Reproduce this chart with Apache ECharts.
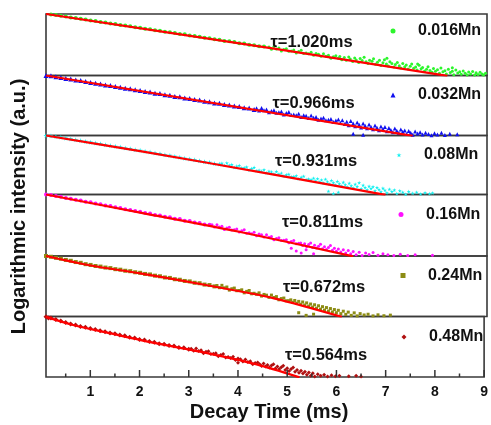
<!DOCTYPE html>
<html>
<head>
<meta charset="utf-8">
<script src="https://cdn.jsdelivr.net/npm/echarts@6/dist/echarts.min.js"></script>
<style>
  html, body { margin: 0; padding: 0; background: #fff; }
  #chart { width: 491px; height: 425px; }
</style>
</head>
<body>
<div id="chart"></div>
<script>
// Decay curves of the Mn-doped series: logarithmic intensity (ln units) vs. time (ms)
const timeTicks = [1, 2, 3, 4, 5, 6, 7, 8, 9];
const timeMinorTicks = [0.5, 1.5, 2.5, 3.5, 4.5, 5.5, 6.5, 7.5, 8.5];
const sampleNames = ['0.016Mn', '0.032Mn', '0.08Mn', '0.16Mn', '0.24Mn', '0.48Mn'];
const lifetimes = [1.020, 0.966, 0.931, 0.811, 0.672, 0.564];
const sampleColors = ['#2cf52c', '#1010f0', '#10f0f0', '#ff10ff', '#8c8c14', '#b01010'];

// measured decay points [time (ms), ln intensity]
const data016 = [[0.1,0.02],[0.2,-0.06],[0.3,-0.13],[0.4,-0.24],[0.5,-0.31],[0.6,-0.44],[0.7,-0.52],[0.8,-0.63],[0.9,-0.71],[1.0,-0.83],[1.1,-0.90],[1.2,-1.03],[1.3,-1.10],[1.4,-1.22],[1.5,-1.29],[1.6,-1.43],[1.7,-1.50],[1.8,-1.58],[1.9,-1.71],[2.0,-1.78],[2.1,-1.92],[2.2,-1.98],[2.3,-2.10],[2.4,-2.17],[2.5,-2.31],[2.6,-2.38],[2.7,-2.46],[2.8,-2.60],[2.9,-2.65],[3.0,-2.79],[3.1,-2.86],[3.2,-2.97],[3.3,-3.10],[3.4,-3.14],[3.5,-3.29],[3.6,-3.35],[3.7,-3.50],[3.8,-3.55],[3.9,-3.64],[4.0,-3.80],[4.1,-3.83],[4.2,-3.99],[4.3,-4.05],[4.4,-4.20],[4.5,-4.24],
  [4.6,-4.29],[4.65,-4.57],[4.7,-4.24],[4.75,-4.55],[4.8,-4.43],[4.85,-4.81],[4.9,-4.62],[4.95,-4.52],[5.0,-4.84],[5.05,-4.80],[5.1,-4.69],[5.15,-5.07],[5.2,-4.87],[5.25,-4.73],[5.3,-5.15],[5.35,-5.06],[5.4,-5.18],[5.45,-4.96],[5.5,-5.38],[5.55,-5.14],[5.6,-5.22],[5.65,-5.50],[5.7,-5.17],[5.75,-5.48],[5.8,-5.35],[5.85,-5.74],[5.9,-5.55],[5.95,-5.44],[6.0,-5.77],
  [6.03,-5.52],[6.07,-5.95],[6.12,-5.66],[6.16,-6.02],[6.21,-5.58],[6.24,-5.85],[6.29,-6.18],[6.33,-5.72],[6.36,-5.98],[6.41,-6.30],[6.44,-5.80],[6.48,-6.05],[6.52,-5.62],[6.56,-6.22],[6.60,-6.45],[6.63,-6.00],[6.68,-6.15],[6.71,-5.82],[6.75,-6.55],[6.79,-6.28],[6.83,-6.02],[6.86,-6.70],[6.90,-6.35],[6.93,-5.95],[6.97,-6.50],[6.98,-5.75],[7.01,-6.78],[7.04,-6.20],[7.08,-6.45],[7.12,-6.88],[7.15,-6.58],[7.19,-6.30],[7.23,-6.72],[7.26,-7.02],[7.30,-6.45],[7.34,-6.85],[7.37,-6.62],[7.41,-7.15],[7.45,-6.80],[7.48,-6.52],[7.52,-7.05],[7.56,-6.90],[7.59,-7.30],[7.60,-6.50],[7.63,-6.68],[7.67,-7.12],[7.70,-6.95],[7.74,-7.42],[7.78,-7.20],[7.81,-6.85],[7.85,-7.35],[7.89,-7.58],[7.92,-7.10],[7.96,-7.45],[8.00,-7.25],[8.04,-7.70],[8.07,-7.02],[8.11,-7.52],[8.15,-7.38],[8.18,-7.80],[8.22,-7.18],[8.26,-7.60],[8.30,-7.45],[8.30,-7.00],[8.33,-7.90],[8.37,-7.30],[8.41,-7.68],[8.45,-7.52],[8.48,-7.85],[8.52,-7.40],[8.56,-7.72],[8.60,-7.95],[8.63,-7.55],[8.67,-7.82],[8.71,-7.48],[8.75,-7.92],[8.78,-7.65],[8.82,-7.88],[8.86,-7.58],[8.90,-7.80],[8.93,-7.95],[8.97,-7.70]];
const data032 = [[0.1,0.0],[0.2,-0.04],[0.3,-0.16],[0.4,-0.25],[0.5,-0.40],[0.6,-0.47],[0.7,-0.61],[0.8,-0.68],[0.9,-0.80],[1.0,-0.92],[1.1,-1.02],[1.2,-1.12],[1.3,-1.27],[1.4,-1.34],[1.5,-1.47],[1.6,-1.55],[1.7,-1.70],[1.8,-1.76],[1.9,-1.90],[2.0,-1.99],[2.1,-2.12],[2.2,-2.20],[2.3,-2.35],[2.4,-2.41],[2.5,-2.55],[2.6,-2.63],[2.7,-2.79],[2.8,-2.84],[2.9,-3.00],[3.0,-3.06],[3.1,-3.21],[3.2,-3.28],[3.3,-3.44],[3.4,-3.50],[3.5,-3.66],[3.6,-3.70],[3.7,-3.88],[3.8,-3.92],[3.9,-4.08],[4.0,-4.14],[4.1,-4.30],[4.2,-4.33],[4.3,-4.52],
  [4.35,-4.37],[4.4,-4.65],[4.45,-4.33],[4.5,-4.64],[4.55,-4.52],[4.6,-4.91],[4.65,-4.72],[4.7,-4.62],[4.75,-4.95],[4.8,-4.91],[4.85,-4.80],[4.9,-5.19],[4.95,-4.99],[5.0,-4.85],[5.05,-5.28],[5.1,-5.19],[5.15,-5.31],[5.2,-5.10],[5.25,-5.52],[5.3,-5.29],[5.35,-5.37],[5.4,-5.65],[5.45,-5.33],[5.5,-5.64],[5.55,-5.52],[5.6,-5.91],[5.65,-5.72],[5.7,-5.62],[5.75,-5.95],[5.8,-5.91],[5.85,-5.80],[5.9,-6.19],[5.95,-5.99],[6.0,-5.85],
  [6.04,-6.32],[6.08,-5.98],[6.13,-6.45],[6.17,-6.15],[6.21,-6.62],[6.25,-6.05],[6.30,-6.40],[6.30,-7.78],[6.34,-6.75],[6.38,-6.28],[6.42,-6.55],[6.46,-6.92],[6.50,-6.40],[6.50,-7.90],[6.54,-6.70],[6.58,-7.02],[6.62,-6.52],[6.66,-6.85],[6.70,-7.18],[6.74,-6.65],[6.78,-6.95],[6.82,-7.30],[6.86,-6.80],[6.90,-7.12],[6.94,-6.88],[6.98,-7.42],[7.02,-7.00],[7.06,-7.25],[7.10,-7.55],[7.14,-7.08],[7.18,-7.38],[7.22,-7.68],[7.26,-7.20],[7.30,-7.50],[7.34,-7.32],[7.38,-7.80],[7.42,-7.40],[7.46,-7.62],[7.50,-7.90],[7.55,-7.45],[7.60,-7.72],[7.65,-7.55],[7.70,-7.88],[7.76,-7.62],[7.82,-7.80],[7.88,-7.95],[7.94,-7.70],[8.00,-7.85],[8.08,-7.62],[8.15,-7.92],[8.25,-7.75],[8.40,-7.82]];
const data08 = [[0.1,0.0],[0.2,-0.04],[0.3,-0.15],[0.4,-0.24],[0.5,-0.36],[0.6,-0.46],[0.7,-0.58],[0.8,-0.68],[0.9,-0.80],[1.0,-0.90],[1.1,-1.03],[1.2,-1.12],[1.3,-1.25],[1.4,-1.35],[1.5,-1.47],[1.6,-1.56],[1.7,-1.70],[1.8,-1.78],[1.9,-1.92],[2.0,-2.01],[2.1,-2.14],[2.2,-2.24],[2.3,-2.38],[2.4,-2.46],[2.5,-2.62],[2.6,-2.70],[2.7,-2.84],[2.8,-2.95],[2.9,-3.10],[3.0,-3.18],[3.1,-3.30],[3.2,-3.42],[3.3,-3.55],[3.4,-3.64],[3.5,-3.80],[3.6,-3.88],
  [3.65,-3.77],[3.7,-4.05],[3.75,-3.73],[3.8,-4.04],[3.85,-3.93],[3.9,-4.33],[3.95,-4.15],[4.0,-4.06],[4.05,-4.40],[4.1,-4.37],[4.15,-4.27],[4.2,-4.67],[4.25,-4.48],[4.3,-4.34],[4.35,-4.78],[4.4,-4.70],[4.45,-4.83],[4.5,-4.63],[4.55,-5.06],[4.6,-4.84],[4.65,-4.93],[4.7,-5.20],[4.75,-4.89],[4.8,-5.21],[4.85,-5.10],[4.9,-5.50],[4.95,-5.33],[5.0,-5.24],[5.05,-5.58],[5.1,-5.55],[5.15,-5.45],[5.2,-5.85],[5.25,-5.66],[5.3,-5.53],[5.35,-5.97],[5.4,-5.89],[5.45,-6.01],[5.5,-5.80],
  [5.54,-6.18],[5.58,-5.85],[5.62,-6.30],[5.66,-6.02],[5.70,-6.45],[5.74,-5.92],[5.78,-6.25],[5.80,-7.55],[5.82,-6.58],[5.86,-6.10],[5.90,-6.40],[5.90,-7.85],[5.94,-6.72],[5.98,-6.22],[6.00,-7.70],[6.02,-6.55],[6.06,-6.85],[6.10,-6.35],[6.14,-6.68],[6.18,-6.98],[6.22,-6.48],[6.26,-6.80],[6.30,-7.12],[6.34,-6.60],[6.38,-6.92],[6.42,-6.40],[6.46,-7.22],[6.50,-6.75],[6.54,-7.05],[6.58,-7.35],[6.62,-6.88],[6.66,-7.18],[6.70,-6.95],[6.74,-7.48],[6.78,-7.05],[6.82,-7.30],[6.86,-7.62],[6.90,-7.15],[6.94,-7.42],[6.98,-7.75],[7.03,-7.28],[7.08,-7.58],[7.13,-7.40],[7.18,-7.85],[7.24,-7.50],[7.30,-7.70],[7.36,-7.95],[7.42,-7.60],[7.50,-7.82],[7.58,-7.68],[7.66,-7.92],[7.75,-7.75],[7.84,-7.88],[7.90,-7.80]];
const data16 = [[0.1,0.0],[0.2,-0.06],[0.3,-0.20],[0.4,-0.30],[0.5,-0.44],[0.6,-0.54],[0.7,-0.69],[0.8,-0.78],[0.9,-0.93],[1.0,-1.02],[1.1,-1.18],[1.2,-1.27],[1.3,-1.42],[1.4,-1.50],[1.5,-1.67],[1.6,-1.75],[1.7,-1.92],[1.8,-2.00],[1.9,-2.16],[2.0,-2.24],[2.1,-2.42],[2.2,-2.48],[2.3,-2.66],[2.4,-2.72],[2.5,-2.90],[2.6,-2.97],[2.7,-3.15],[2.8,-3.20],[2.9,-3.40],[3.0,-3.45],[3.1,-3.64],[3.2,-3.70],[3.3,-3.90],[3.4,-3.94],
  [3.45,-3.93],[3.5,-4.23],[3.55,-3.92],[3.6,-4.24],[3.65,-4.13],[3.7,-4.54],[3.75,-4.36],[3.8,-4.27],[3.85,-4.61],[3.9,-4.59],[3.95,-4.49],[4.0,-4.89],[4.05,-4.71],[4.1,-4.59],[4.15,-5.04],[4.2,-4.97],[4.25,-5.11],[4.3,-4.92],[4.35,-5.36],[4.4,-5.14],[4.45,-5.24],[4.5,-5.54],[4.55,-5.24],[4.6,-5.57],[4.65,-5.47],[4.7,-5.88],[4.75,-5.71],[4.8,-5.63],[4.85,-5.98],[4.9,-5.96],[4.95,-5.87],[5.0,-6.28],[5.05,-6.10],[5.05,-7.00],[5.1,-5.97],[5.15,-6.42],[5.15,-7.35],[5.2,-6.35],[5.25,-7.60],[5.35,-7.20],[5.5,-7.70],
  [5.24,-6.30],[5.28,-6.62],[5.32,-6.40],[5.36,-6.78],[5.40,-6.50],[5.44,-6.32],[5.48,-6.88],[5.52,-6.60],[5.56,-6.95],[5.60,-6.72],[5.64,-6.48],[5.68,-7.05],[5.72,-6.80],[5.76,-7.15],[5.80,-6.88],[5.84,-6.65],[5.88,-7.25],[5.92,-6.98],[5.96,-7.38],[6.00,-7.08],[6.05,-7.48],[6.10,-7.18],[6.15,-7.60],[6.20,-7.28],[6.25,-7.72],[6.30,-7.40],[6.36,-7.85],[6.42,-7.50],[6.48,-7.92],[6.55,-7.62],[6.62,-7.82],[6.70,-7.55],[6.80,-7.90],[6.90,-7.72],[7.00,-7.85],[7.12,-7.95],[7.25,-7.78],[7.40,-7.92],[7.55,-7.85],[7.90,-7.90]];
const data24 = [[0.1,0.0],[0.2,-0.10],[0.3,-0.24],[0.4,-0.36],[0.5,-0.52],[0.6,-0.63],[0.7,-0.80],[0.8,-0.90],[0.9,-1.08],[1.0,-1.18],[1.1,-1.32],[1.2,-1.40],[1.3,-1.53],[1.4,-1.60],[1.5,-1.74],[1.6,-1.81],[1.7,-1.95],[1.8,-2.01],[1.9,-2.15],[2.0,-2.22],[2.1,-2.37],[2.2,-2.44],[2.3,-2.60],[2.4,-2.68],[2.5,-2.84],[2.6,-2.90],[2.7,-3.07],[2.8,-3.14],[2.9,-3.30],[3.0,-3.36],[3.1,-3.54],[3.2,-3.60],[3.3,-3.78],[3.4,-3.84],[3.5,-4.02],
  [3.55,-3.90],[3.6,-4.19],[3.65,-3.88],[3.7,-4.21],[3.75,-4.10],[3.8,-4.51],[3.85,-4.33],[3.9,-4.24],[3.95,-4.59],[4.0,-4.56],[4.05,-4.47],[4.1,-4.87],[4.15,-4.68],[4.2,-4.56],[4.25,-5.00],[4.3,-4.93],[4.35,-5.06],[4.4,-4.87],[4.45,-5.30],[4.5,-5.08],[4.55,-5.18],[4.6,-5.47],[4.65,-5.17],[4.7,-5.49],[4.75,-5.37],[4.8,-5.79],[4.85,-5.63],[4.9,-5.56],[4.95,-5.92],[5.0,-5.91],
  [5.04,-5.80],[5.08,-6.12],[5.12,-5.88],[5.16,-6.25],[5.20,-6.00],[5.20,-7.50],[5.24,-6.38],[5.28,-6.08],[5.32,-6.48],[5.35,-7.85],[5.36,-6.20],[5.40,-6.62],[5.44,-6.35],[5.48,-6.75],[5.50,-7.70],[5.52,-6.45],[5.56,-6.90],[5.60,-6.58],[5.64,-7.02],[5.68,-6.70],[5.72,-7.15],[5.76,-6.82],[5.80,-7.28],[5.84,-6.95],[5.88,-7.40],[5.92,-7.08],[5.96,-7.50],[6.00,-7.18],[6.05,-7.62],[6.10,-7.30],[6.15,-7.72],[6.20,-7.42],[6.26,-7.85],[6.32,-7.52],[6.38,-7.92],[6.44,-7.62],[6.52,-7.80],[6.60,-7.70],[6.70,-7.92],[6.80,-7.78],[6.92,-7.90],[7.05,-7.82]];
const data48 = [[0.1,-0.02],[0.15,-0.20],[0.2,-0.20],[0.3,-0.40],[0.4,-0.60],[0.5,-0.78],[0.6,-0.98],[0.7,-1.14],[0.8,-1.32],[0.9,-1.43],[1.0,-1.60],[1.1,-1.72],[1.2,-1.90],[1.3,-2.01],[1.4,-2.18],[1.5,-2.28],[1.6,-2.46],[1.7,-2.56],[1.8,-2.75],[1.9,-2.84],[2.0,-3.03],[2.1,-3.12],[2.2,-3.32],[2.3,-3.40],[2.4,-3.59],[2.5,-3.66],[2.6,-3.85],[2.7,-3.90],[2.8,-4.10],[2.9,-4.14],[3.0,-4.34],
  [3.05,-4.25],[3.1,-4.54],[3.15,-4.23],[3.2,-4.55],[3.25,-4.45],[3.3,-4.85],[3.35,-4.67],[3.4,-4.59],[3.45,-4.95],[3.5,-4.93],[3.55,-4.85],[3.6,-5.26],[3.65,-5.09],[3.7,-4.97],[3.75,-5.43],[3.8,-5.36],[3.85,-5.50],[3.9,-5.32],[3.95,-5.76],[4.0,-5.56],[4.0,-6.10],[4.05,-5.66],[4.1,-5.96],[4.15,-5.67],[4.2,-6.00],[4.25,-5.91],[4.3,-6.32],[4.35,-6.15],[4.4,-6.07],
  [4.44,-6.30],[4.48,-6.55],[4.52,-6.22],[4.56,-6.62],[4.60,-6.40],[4.64,-6.75],[4.68,-6.48],[4.72,-6.30],[4.76,-6.88],[4.80,-6.60],[4.84,-6.95],[4.88,-6.72],[4.92,-6.52],[4.96,-7.08],[5.00,-6.85],[5.04,-7.20],[5.08,-6.95],[5.12,-6.75],[5.16,-7.32],[5.20,-7.08],[5.24,-7.45],[5.28,-7.18],[5.32,-7.55],[5.36,-7.30],[5.40,-7.70],[5.44,-7.42],[5.48,-7.82],[5.52,-7.52],[5.56,-7.92],[5.62,-7.62],[5.68,-7.85],[5.75,-7.70],[5.82,-7.92],[5.90,-7.78],[5.98,-7.90],[6.06,-7.82],[6.25,-7.90],[6.40,-7.85],[6.50,-7.95]];

// fitted decay curves [time (ms), ln intensity]
const fit016 = [[0.1,0],[4.7,-4.5],[8.2,-8.05]];
const fit032 = [[0.1,0],[7.5,-8.05]];
const fit08 = [[0.1,0],[2,-2.12],[4.7,-5.3],[6.95,-8.05]];
const fit16 = [[0.1,0],[2,-2.35],[4,-4.85],[6.3,-8.05]];
const fit24 = [[0.1,0],[1,-1.26],[2,-2.29],[3.35,-3.87],[4.7,-5.6],[6.07,-8.05]];
const fit48 = [[0.1,-0.05],[0.67,-1.16],[1.34,-2.13],[2.35,-3.56],[3.35,-4.8],[4.36,-6.3],[5.25,-8.05]];

const decayData = [data016, data032, data08, data16, data24, data48];
const fitData = [fit016, fit032, fit08, fit16, fit24, fit48];

const STAR = 'path://M50,0 L61,35 L98,35 L68,57 L79,91 L50,70 L21,91 L32,57 L2,35 L39,35 Z';
const symbols = ['circle', 'triangle', STAR, 'circle', 'rect', 'diamond'];
const symbolSizes = [3, 4, 4, 3, 3, 4];
// where the points start to spread out from the fitted curve
const bandEnds = [4.55, 4.3, 3.6, 3.4, 3.5, 3.0];

const FONT = '"Liberation Sans", Arial, Helvetica, sans-serif';
const panelTops = [14, 75.5, 135.5, 194.5, 256, 316.5];
const plotBottom = 377;
const plotLeft = 46, plotWidth = 441;
const tauPos = [[311.5, 42], [313.5, 103], [316, 161], [322.5, 222.7], [324, 287], [326, 355.7]];
const legendPos = [[393, 31], [393, 95], [399, 155], [401, 214.5], [403, 275.5], [404, 337]];
const Y_MIN = -8, Y_MAX = 0;

const grids = [], xAxes = [], yAxes = [], series = [], legends = [], graphics = [];
panelTops.forEach((top, i) => {
  const bottomEdge = i < 5 ? panelTops[i + 1] : plotBottom;
  grids.push({
    left: plotLeft, width: plotWidth, top: top, height: bottomEdge - top,
    show: true, borderColor: '#3a3a3a', borderWidth: 1.6
  });
  const last = i === 5;
  xAxes.push({
    type: 'value', gridIndex: i, min: 0.1, max: 9, position: 'bottom',
    axisLine: { show: false, onZero: false }, splitLine: { show: false },
    axisTick: { show: false },
    axisLabel: last ? { show: true, customValues: timeTicks, margin: 8, color: '#111', fontSize: 14, fontWeight: 'bold', fontFamily: FONT } : { show: false }
  });
  yAxes.push({ type: 'value', gridIndex: i, min: Y_MIN, max: Y_MAX, show: false });
  const base = symbolSizes[i];
  series.push({
    name: sampleNames[i], type: 'scatter', xAxisIndex: i, yAxisIndex: i,
    data: decayData[i], symbol: symbols[i],
    symbolSize: (v) => (v[0] <= bandEnds[i] ? base + 1 : base),
    itemStyle: { color: sampleColors[i], opacity: 1 }, clip: true, z: 2, silent: true
  });
  series.push({
    name: 'fit' + i, type: 'line', xAxisIndex: i, yAxisIndex: i,
    data: fitData[i], showSymbol: false, smooth: 0.3, clip: true,
    lineStyle: { color: '#ff0000', width: 2.2 }, z: 3, silent: true
  });
  legends.push({
    data: [sampleNames[i]], left: legendPos[i][0] - 2.5, top: legendPos[i][1] - 8,
    padding: 0, itemWidth: 5, itemHeight: 5, itemGap: 0, symbolKeepAspect: true,
    selectedMode: false,
    textStyle: { color: '#111', fontSize: 16, fontWeight: 'bold', fontFamily: FONT, lineHeight: 16, padding: [0, 0, 0, 17.5] }
  });
  graphics.push({
    id: 'tau' + i, type: 'text', x: tauPos[i][0], y: tauPos[i][1], z: 10,
    style: { text: 'τ=' + lifetimes[i].toFixed(3) + 'ms', align: 'center', verticalAlign: 'middle',
      fill: '#111', font: 'bold 16.5px ' + FONT }
  });
});

graphics.push({
  id: 'xTitle', type: 'text', x: 269, y: 412,
  style: { text: 'Decay Time (ms)', align: 'center', verticalAlign: 'middle', fill: '#111', font: 'bold 20px ' + FONT }
});
graphics.push({
  id: 'yTitle', type: 'text', x: 19, y: 206.5, rotation: Math.PI / 2,
  style: { text: 'Logarithmic intensity (a.u.)', align: 'center', verticalAlign: 'middle', fill: '#111', font: 'bold 20px ' + FONT }
});

const chart = echarts.init(document.getElementById('chart'), null, { renderer: 'canvas' });
chart.setOption({
  animation: false,
  backgroundColor: '#fff',
  grid: grids, xAxis: xAxes, yAxis: yAxes, series: series, legend: legends, graphic: graphics
});

// inward tick marks on the time axis, placed through the bottom panel's scales
function tickMark(t, len, id) {
  const p = chart.convertToPixel({ xAxisIndex: 5, yAxisIndex: 5 }, [t, Y_MIN]);
  return {
    id: id, type: 'line', z: 20, silent: true,
    shape: { x1: p[0], y1: p[1], x2: p[0], y2: p[1] - len },
    style: { stroke: '#333', lineWidth: 1.5 }
  };
}
const tickGraphics = timeTicks.map((t, k) => tickMark(t, 7, 'major' + k))
  .concat(timeMinorTicks.map((t, k) => tickMark(t, 3.5, 'minor' + k)));
chart.setOption({ graphic: graphics.concat(tickGraphics) });
</script>
</body>
</html>
